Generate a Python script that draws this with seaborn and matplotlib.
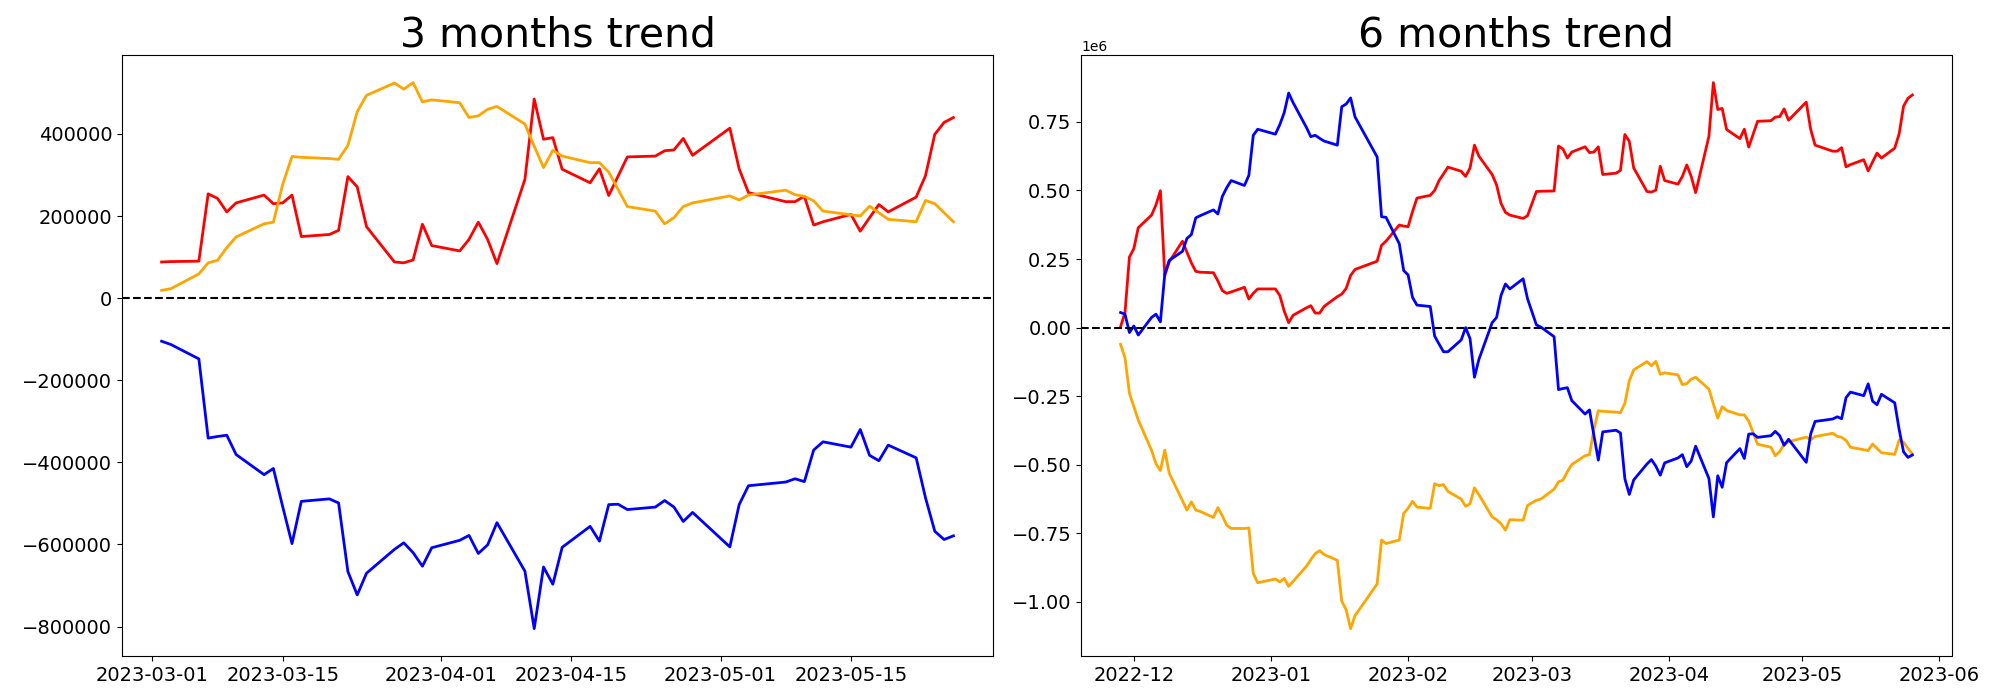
import pandas as pd
import seaborn as sns
import matplotlib.pyplot as plt

# Korean market trading days (market closed on these weekdays)
kr_holidays = ['2022-12-30', '2023-01-23', '2023-01-24', '2023-03-01', '2023-05-01', '2023-05-05']
dates_3m = pd.bdate_range('2023-03-02', '2023-05-26', freq='C', holidays=kr_holidays)
dates_6m = pd.bdate_range('2022-11-28', '2023-05-26', freq='C', holidays=kr_holidays)

# ---- 3 months (Mar 2 - May 26) ----
red_3m = [88000, 89000, 90000, 254000, 243000, 210000, 232000, 251000, 230000, 232000, 251000, 150000,
          155000, 165000, 296000, 271000, 174000, 88000, 86000, 93000, 180000, 128000,
          115000, 143000, 185000, 143000, 84000, 289000, 485000, 387000, 391000, 314000, 281000, 315000,
          250000, 297000, 344000, 346000, 359000, 361000, 389000, 348000,
          414000, 315000, 257000, 235000, 235000, 248000, 178000, 186000, 204000, 163000, 196000, 228000,
          210000, 246000, 298000, 399000, 428000, 440000]
orange_3m = [19000, 23000, 59000, 86000, 92000, 123000, 149000, 181000, 185000, 277000, 345000, 343000,
             340000, 338000, 372000, 454000, 494000, 524000, 509000, 525000, 478000, 483000,
             476000, 440000, 444000, 460000, 467000, 424000, 370000, 318000, 360000, 346000, 330000, 330000,
             307000, 265000, 223000, 212000, 181000, 196000, 223000, 232000,
             249000, 239000, 251000, 263000, 252000, 248000, 237000, 212000, 203000, 200000, 224000, 208000,
             192000, 186000, 238000, 230000, 208000, 186000]
blue_3m = [-105000, -113000, -148000, -341000, -337000, -334000, -381000, -430000, -415000, -508000, -598000, -495000,
           -489000, -499000, -666000, -723000, -670000, -612000, -596000, -620000, -653000, -608000,
           -590000, -578000, -622000, -601000, -547000, -665000, -805000, -655000, -697000, -607000, -556000, -592000,
           -503000, -502000, -515000, -509000, -493000, -509000, -544000, -522000,
           -606000, -503000, -457000, -448000, -440000, -447000, -370000, -350000, -363000, -320000, -383000, -396000,
           -358000, -389000, -486000, -568000, -588000, -579000]

# ---- 6 months (Nov 28 - May 26) ----
red_6m = [3000, 55000, 257000,
          288000, 364000, 410000, 447000, 499000, 190000, 240000, 315000, 275000, 236000, 205000, 202000,
          200000, 170000, 135000, 125000, 130000, 147000, 104000, 125000, 141000,
          141000, 117000, 60000, 18000, 45000, 72000, 80000, 53000, 53000, 77000, 113000, 122000,
          143000, 190000, 212000, 242000, 300000, 315000, 374000, 370000,
          368000, 423000, 472000, 482000, 500000, 536000, 560000, 585000, 570000, 551000, 582000, 665000,
          625000, 558000, 520000, 453000, 420000, 410000, 398000, 408000,
          496000, 497000, 498000, 662000, 651000, 618000, 640000, 659000, 638000, 640000, 659000, 558000,
          563000, 573000, 704000, 679000, 582000, 496000, 494000, 501000, 588000, 536000,
          523000, 551000, 593000, 551000, 492000, 697000, 893000, 795000, 799000, 722000, 689000, 723000,
          658000, 705000, 752000, 754000, 767000, 769000, 797000, 756000,
          822000, 723000, 665000, 643000, 643000, 656000, 586000, 594000, 612000, 571000, 604000, 636000,
          618000, 654000, 706000, 807000, 836000, 848000]
orange_6m = [-61000, -110000, -239000,
             -288000, -337000, -447000, -496000, -521000, -447000, -531000, -631000, -665000, -635000, -665000, -670000,
             -692000, -656000, -686000, -720000, -732000, -732000, -730000, -896000, -930000,
             -916000, -927000, -914000, -943000, -925000, -870000, -846000, -824000, -813000, -827000, -848000, -997000,
             -1028000, -1097000, -1050000, -934000, -774000, -787000, -774000, -678000,
             -658000, -633000, -654000, -659000, -569000, -576000, -572000, -597000, -625000, -651000, -642000, -584000,
             -609000, -690000, -700000, -715000, -738000, -700000, -702000, -648000,
             -629000, -625000, -589000, -562000, -556000, -525000, -499000, -467000, -463000, -371000, -303000, -305000,
             -308000, -310000, -276000, -194000, -154000, -124000, -139000, -123000, -170000, -165000,
             -172000, -208000, -204000, -188000, -181000, -224000, -278000, -330000, -288000, -302000, -318000, -318000,
             -341000, -383000, -425000, -436000, -467000, -452000, -425000, -416000,
             -399000, -409000, -397000, -385000, -396000, -400000, -411000, -436000, -445000, -448000, -424000, -440000,
             -456000, -462000, -410000, -418000, -440000, -462000]
blue_6m = [55000, 49000, -18000,
           6000, -27000, 37000, 49000, 21000, 196000, 245000, 278000, 325000, 339000, 400000, 408000,
           429000, 414000, 478000, 510000, 536000, 518000, 555000, 701000, 723000,
           705000, 740000, 784000, 855000, 820000, 730000, 696000, 701000, 690000, 680000, 665000, 805000,
           815000, 837000, 768000, 622000, 404000, 402000, 306000, 208000,
           192000, 110000, 82000, 77000, -31000, -60000, -88000, -88000, -45000, 0, -40000, -181000,
           -116000, 18000, 37000, 117000, 159000, 141000, 178000, 105000,
           10000, 2000, -33000, -226000, -222000, -219000, -266000, -315000, -300000, -393000, -483000, -380000,
           -374000, -384000, -551000, -608000, -555000, -497000, -481000, -505000, -538000, -493000,
           -475000, -463000, -507000, -486000, -432000, -550000, -690000, -540000, -582000, -492000, -441000, -477000,
           -388000, -387000, -400000, -394000, -378000, -394000, -429000, -407000,
           -491000, -388000, -342000, -333000, -325000, -332000, -255000, -235000, -248000, -205000, -268000, -281000,
           -243000, -274000, -371000, -453000, -473000, -464000]


def to_long(dates, red, orange, blue):
    parts = []
    for name, vals in (("red", red), ("orange", orange), ("blue", blue)):
        parts.append(pd.DataFrame({"date": dates, "value": vals, "line": name}))
    return pd.concat(parts, ignore_index=True)


df_3m = to_long(dates_3m, red_3m, orange_3m, blue_3m)
df_6m = to_long(dates_6m, red_6m, orange_6m, blue_6m)
palette = {"red": "red", "orange": "orange", "blue": "blue"}

fig, axes = plt.subplots(1, 2, figsize=(20, 7), dpi=100)
for ax, df, title in zip(axes, [df_3m, df_6m], ["3 months trend", "6 months trend"]):
    sns.lineplot(data=df, x="date", y="value", hue="line", palette=palette,
                 linewidth=2, legend=False, ax=ax)
    ax.axhline(0, color="black", linestyle="--", linewidth=1.5)
    ax.set_title(title, fontsize=29.5)
    ax.set_xlabel("")
    ax.set_ylabel("")
    ax.tick_params(labelsize=14)

plt.subplots_adjust(left=0.061, right=0.976, bottom=0.063, top=0.921, wspace=0.101)
plt.savefig("out.png")
